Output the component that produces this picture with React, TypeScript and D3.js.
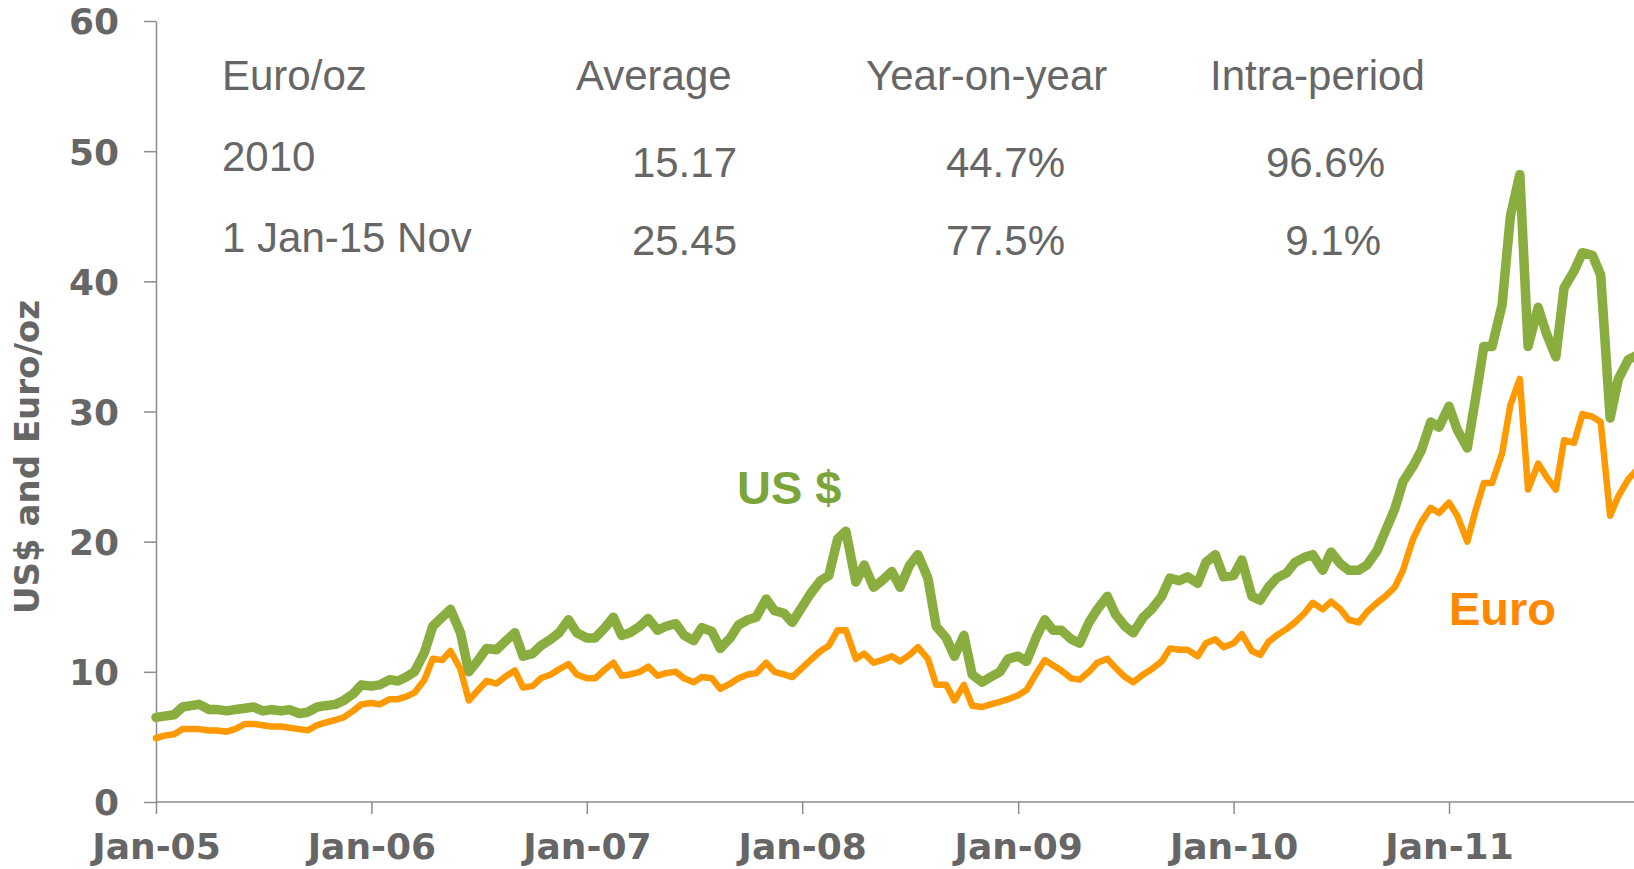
import { useEffect, useRef } from "react";
import * as d3 from "d3";

// x categories: Jan of each year on the axis
const axisYears = [2005, 2006, 2007, 2008, 2009, 2010, 2011];
const yTicks = [0, 10, 20, 30, 40, 50, 60];

// readings on the 1st and 15th of each month, Jan 2005 - 15 Nov 2011
const usd2005 = [6.5, 6.6, 6.7, 7.3, 7.4, 7.5, 7.1, 7.1, 7.0, 7.1, 7.2, 7.3, 7.0, 7.1, 7.0, 7.1, 6.8, 6.9, 7.3, 7.4, 7.5, 7.8, 8.3, 9.0];
const usd2006 = [8.9, 9.0, 9.4, 9.3, 9.6, 10.0, 11.5, 13.5, 14.2, 14.8, 13.0, 10.0, 10.9, 11.8, 11.7, 12.3, 13.0, 11.2, 11.4, 12.0, 12.5, 13.0, 14.0, 13.0];
const usd2007 = [12.6, 12.6, 13.4, 14.2, 12.8, 13.0, 13.5, 14.1, 13.2, 13.5, 13.7, 12.8, 12.4, 13.4, 13.1, 11.8, 12.6, 13.6, 14.0, 14.2, 15.6, 14.7, 14.5, 13.8];
const usd2008 = [15.0, 16.0, 17.0, 17.4, 20.2, 20.8, 16.9, 18.2, 16.5, 17.0, 17.7, 16.5, 18.2, 19.0, 17.2, 13.5, 12.6, 11.2, 12.8, 9.8, 9.2, 9.6, 10.0, 11.0];
const usd2009 = [11.2, 10.8, 12.7, 14.0, 13.2, 13.2, 12.5, 12.2, 13.8, 14.8, 15.8, 14.4, 13.5, 13.0, 14.2, 14.8, 15.8, 17.2, 17.0, 17.3, 16.8, 18.4, 19.0, 17.3];
const usd2010 = [17.4, 18.6, 15.8, 15.5, 16.5, 17.2, 17.6, 18.4, 18.8, 19.0, 17.8, 19.2, 18.3, 17.8, 17.8, 18.2, 19.3, 20.8, 22.5, 24.6, 25.8, 27.0, 29.2, 28.8];
const usd2011 = [30.4, 28.6, 27.2, 31.0, 35.0, 35.0, 38.2, 45.0, 48.2, 35.0, 38.0, 36.0, 34.2, 39.5, 40.8, 42.2, 42.0, 40.5, 29.5, 32.5, 34.0, 34.3];

const eur2005 = [4.9, 5.1, 5.2, 5.6, 5.6, 5.6, 5.5, 5.5, 5.4, 5.6, 6.0, 6.0, 5.9, 5.8, 5.8, 5.7, 5.6, 5.5, 5.9, 6.1, 6.3, 6.5, 7.0, 7.5];
const eur2006 = [7.6, 7.5, 7.9, 7.9, 8.1, 8.4, 9.4, 11.0, 10.9, 11.6, 10.2, 7.8, 8.6, 9.3, 9.1, 9.6, 10.1, 8.8, 8.9, 9.5, 9.8, 10.2, 10.6, 9.8];
const eur2007 = [9.5, 9.5, 10.2, 10.7, 9.7, 9.8, 10.0, 10.4, 9.7, 9.9, 10.0, 9.5, 9.2, 9.6, 9.5, 8.7, 9.1, 9.5, 9.8, 9.9, 10.7, 10.0, 9.8, 9.6];
const eur2008 = [10.3, 10.9, 11.6, 12.0, 13.2, 13.2, 11.0, 11.4, 10.7, 10.9, 11.2, 10.8, 11.3, 11.9, 11.0, 9.0, 9.0, 7.8, 9.0, 7.4, 7.3, 7.5, 7.7, 7.9];
const eur2009 = [8.2, 8.6, 9.9, 10.9, 10.5, 10.1, 9.5, 9.4, 10.0, 10.7, 11.0, 10.3, 9.6, 9.2, 9.8, 10.2, 10.8, 11.8, 11.7, 11.7, 11.2, 12.2, 12.5, 11.9];
const eur2010 = [12.2, 12.9, 11.6, 11.3, 12.3, 12.8, 13.3, 13.8, 14.5, 15.3, 14.8, 15.4, 14.8, 14.0, 13.8, 14.6, 15.3, 15.8, 16.5, 17.8, 20.2, 21.5, 22.6, 22.2];
const eur2011 = [23.0, 22.0, 20.0, 22.4, 24.5, 24.5, 26.8, 30.5, 32.5, 24.0, 26.0, 25.0, 24.0, 27.8, 27.6, 29.8, 29.6, 29.2, 22.0, 23.5, 24.8, 25.5];

const usdValues = [...usd2005, ...usd2006, ...usd2007, ...usd2008, ...usd2009, ...usd2010, ...usd2011];
const eurValues = [...eur2005, ...eur2006, ...eur2007, ...eur2008, ...eur2009, ...eur2010, ...eur2011];

// table in the top of the chart
const tableHeader = ["Euro/oz", "Average", "Year-on-year", "Intra-period"];
const tableRowLabels = ["2010", "1 Jan-15 Nov"];
const tableAverage = ["15.17", "25.45"];
const tableYoY = ["44.7%", "77.5%"];
const tableIntra = ["96.6%", "9.1%"];

const GRAY = "#666666";
const AXIS = "#8c8c8c";

function App() {
    const svgRef = useRef<SVGSVGElement>(null);

    useEffect(() => {
        const svg = d3.select(svgRef.current);
        svg.selectAll("*").remove();

        const dates: Date[] = [];
        axisYears.forEach(yr => {
            for (let m = 0; m < 12; m++) {
                dates.push(new Date(yr, m, 1));
                dates.push(new Date(yr, m, 15));
            }
        });

        const x = d3.scaleTime()
            .domain([new Date(2005, 0, 1), new Date(2011, 0, 1)])
            .range([156, 1449]);
        const y = d3.scaleLinear().domain([0, 60]).range([802, 21]);

        // y axis
        const gy = svg.append("g")
            .attr("transform", "translate(156,0)")
            .call(d3.axisLeft(y).tickValues(yTicks).tickSize(12).tickPadding(25).tickSizeOuter(0));
        gy.select(".domain").attr("stroke", AXIS).attr("stroke-width", 1.5);
        gy.selectAll(".tick line").attr("stroke", AXIS).attr("stroke-width", 1.5);
        gy.selectAll("text")
            .attr("fill", GRAY)
            .attr("font-family", "'DejaVu Sans', Verdana, sans-serif")
            .attr("font-weight", "bold")
            .attr("font-size", 36)
            .attr("dy", "0.36em");

        // x axis
        const gx = svg.append("g")
            .attr("transform", "translate(0,802)")
            .call(d3.axisBottom(x)
                .tickValues(axisYears.map(yr => new Date(yr, 0, 1)))
                .tickSize(12)
                .tickSizeOuter(0)
                .tickFormat(d3.timeFormat("Jan-%y") as any));
        gx.select(".domain").remove();
        gx.selectAll(".tick line").attr("stroke", AXIS).attr("stroke-width", 1.5);
        gx.selectAll("text")
            .attr("fill", GRAY)
            .attr("font-family", "'DejaVu Sans', Verdana, sans-serif")
            .attr("font-weight", "bold")
            .attr("font-size", 36)
            .attr("y", 57)
            .attr("dy", 0);
        svg.append("line")
            .attr("x1", 156).attr("x2", 1634)
            .attr("y1", 802).attr("y2", 802)
            .attr("stroke", AXIS).attr("stroke-width", 1.5);

        // y title
        svg.append("text")
            .attr("transform", "translate(39,457) rotate(-90)")
            .attr("text-anchor", "middle")
            .attr("fill", GRAY)
            .attr("font-family", "'DejaVu Sans', Verdana, sans-serif")
            .attr("font-weight", "bold")
            .attr("font-size", 34)
            .text("US$ and Euro/oz");

        // lines
        const line = d3.line<number>()
            .x((_, i) => x(dates[i]))
            .y(d => y(d));

        svg.append("path")
            .datum(usdValues)
            .attr("d", line)
            .attr("fill", "none")
            .attr("stroke", "#89ad3e")
            .attr("stroke-width", 9.5)
            .attr("stroke-linejoin", "round")
            .attr("stroke-linecap", "round");

        svg.append("path")
            .datum(eurValues)
            .attr("d", line)
            .attr("fill", "none")
            .attr("stroke", "#ff9900")
            .attr("stroke-width", 6.5)
            .attr("stroke-linejoin", "round")
            .attr("stroke-linecap", "round");

        // series labels
        svg.append("text")
            .attr("x", 737).attr("y", 504)
            .attr("fill", "#7ba43a")
            .attr("font-family", "'Liberation Sans', Arial, sans-serif")
            .attr("font-weight", "bold")
            .attr("font-size", 47)
            .text("US $");
        svg.append("text")
            .attr("x", 1449).attr("y", 625)
            .attr("fill", "#ff8800")
            .attr("font-family", "'Liberation Sans', Arial, sans-serif")
            .attr("font-weight", "bold")
            .attr("font-size", 47)
            .text("Euro");

        // table
        const table = svg.append("g")
            .attr("fill", GRAY)
            .attr("font-family", "'Liberation Sans', Arial, sans-serif")
            .attr("font-size", 42);
        const headerX = [222, 576, 866, 1210];
        tableHeader.forEach((t, i) => {
            table.append("text").attr("x", headerX[i]).attr("y", 90).text(t);
        });
        const labelY = [171, 252];
        const numY = [177, 255];
        tableRowLabels.forEach((t, i) => {
            table.append("text").attr("x", 222).attr("y", labelY[i]).text(t);
            table.append("text").attr("x", 737).attr("y", numY[i]).attr("text-anchor", "end").text(tableAverage[i]);
            table.append("text").attr("x", 1065).attr("y", numY[i]).attr("text-anchor", "end").text(tableYoY[i]);
            table.append("text").attr("x", i === 0 ? 1385 : 1381).attr("y", numY[i]).attr("text-anchor", "end").text(tableIntra[i]);
        });
    }, []);

    return (
        <svg
            ref={svgRef}
            width={1634}
            height={869}
            style={{ position: "absolute", left: 0, top: 0, background: "#ffffff" }}
        />
    );
}

export default App;
